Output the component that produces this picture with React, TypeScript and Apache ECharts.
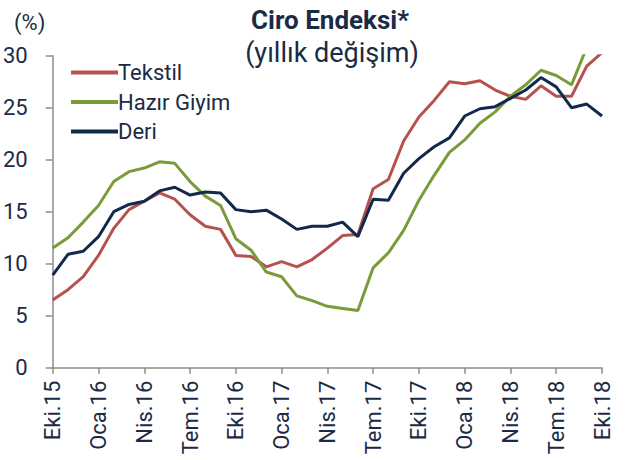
import React, { useEffect, useRef } from "react";
import * as echarts from "echarts";

const categories = [
  "Eki.15","Kas.15","Ara.15","Oca.16","Şub.16","Mar.16","Nis.16","May.16","Haz.16","Tem.16","Ağu.16","Eyl.16",
  "Eki.16","Kas.16","Ara.16","Oca.17","Şub.17","Mar.17","Nis.17","May.17","Haz.17","Tem.17","Ağu.17","Eyl.17",
  "Eki.17","Kas.17","Ara.17","Oca.18","Şub.18","Mar.18","Nis.18","May.18","Haz.18","Tem.18","Ağu.18","Eyl.18",
  "Eki.18",
];

const tekstil = [
  6.5, 7.5, 8.75, 10.8, 13.4, 15.2, 16.0, 16.8, 16.2, 14.7, 13.6, 13.3,
  10.8, 10.7, 9.7, 10.2, 9.7, 10.4, 11.5, 12.7, 12.8, 17.2, 18.1, 21.8,
  24.1, 25.7, 27.5, 27.3, 27.6, 26.7, 26.1, 25.8, 27.1, 26.1, 26.1, 29.0,
  30.3,
];

const hazirGiyim = [
  11.5, 12.5, 14.0, 15.6, 17.9, 18.85, 19.2, 19.8, 19.65, 17.9, 16.5, 15.6,
  12.4, 11.3, 9.2, 8.75, 6.9, 6.45, 5.9, 5.7, 5.5, 9.6, 11.05, 13.2,
  16.1, 18.5, 20.7, 21.9, 23.5, 24.6, 26.1, 27.2, 28.6, 28.1, 27.2, 30.8,
  33.0,
];

const deri = [
  8.9, 10.9, 11.2, 12.6, 15.0, 15.7, 16.0, 17.0, 17.35, 16.6, 16.9, 16.8,
  15.2, 15.0, 15.15, 14.3, 13.3, 13.6, 13.6, 14.0, 12.6, 16.2, 16.1, 18.7,
  20.1, 21.25, 22.1, 24.2, 24.9, 25.1, 25.9, 26.7, 27.9, 27.0, 25.0, 25.35,
  24.2,
];

const yTicks = { min: 0, max: 30, interval: 5 };

const TEXT = "#1B2B45";
const AXIS = "#8C8C8C";
const FONT = "Roboto, 'Open Sans', sans-serif";

export default function App() {
  const ref = useRef<HTMLDivElement>(null);
  useEffect(() => {
    if (!ref.current) return;
    const chart = echarts.init(ref.current, null, { renderer: "svg" });
    chart.setOption({
      animation: false,
      backgroundColor: "#ffffff",
      textStyle: { fontFamily: FONT, color: TEXT },
      grid: { left: 47, right: 31, top: 55.7, bottom: 92.3, containLabel: false },
      legend: {
        orient: "vertical",
        left: 66,
        top: 56.5,
        itemWidth: 47,
        itemHeight: 4,
        itemGap: 7.5,
        icon: "rect",
        textStyle: { fontFamily: FONT, fontSize: 22, color: TEXT, padding: [0, 0, 0, -5] },
        data: ["Tekstil", "Hazır Giyim", "Deri"],
      },
      graphic: [
        {
          type: "text",
          x: 330,
          y: 20,
          style: {
            text: "Ciro Endeksi*",
            fontFamily: FONT,
            fontWeight: "bold",
            fontSize: 26,
            fill: TEXT,
            align: "center",
            verticalAlign: "middle",
          },
        },
        {
          type: "text",
          x: 332,
          y: 53,
          style: {
            text: "(yıllık değişim)",
            fontFamily: FONT,
            fontSize: 27,
            fill: TEXT,
            align: "center",
            verticalAlign: "middle",
          },
        },
        {
          type: "text",
          x: 14,
          y: 22,
          style: { text: "(%)", fontFamily: FONT, fontSize: 22, fill: TEXT, verticalAlign: "middle" },
        },
      ],
      xAxis: {
        type: "category",
        data: categories,
        boundaryGap: false,
        axisLine: { lineStyle: { color: AXIS, width: 1.5 } },
        axisTick: { interval: 2, length: 6, lineStyle: { color: AXIS, width: 1.5 } },
        axisLabel: {
          interval: 2,
          rotate: 90,
          margin: 13,
          fontFamily: FONT,
          fontSize: 22,
          color: TEXT,
        },
        splitLine: { show: false },
      },
      yAxis: {
        type: "value",
        min: yTicks.min,
        max: yTicks.max,
        interval: yTicks.interval,
        axisLine: { show: true, lineStyle: { color: AXIS, width: 1.5 } },
        axisTick: { show: true, length: 7, lineStyle: { color: AXIS, width: 1.5 } },
        axisLabel: { margin: 25, fontFamily: FONT, fontSize: 22, color: TEXT },
        splitLine: { show: false },
      },
      series: [
        {
          name: "Tekstil",
          type: "line",
          data: tekstil,
          symbol: "none",
          clip: true,
          color: "#B5524E",
          lineStyle: { width: 3, color: "#B5524E" },
        },
        {
          name: "Hazır Giyim",
          type: "line",
          data: hazirGiyim,
          symbol: "none",
          clip: true,
          color: "#7A9B3A",
          lineStyle: { width: 3, color: "#7A9B3A" },
        },
        {
          name: "Deri",
          type: "line",
          data: deri,
          symbol: "none",
          clip: true,
          color: "#13294B",
          lineStyle: { width: 3, color: "#13294B" },
        },
      ],
    });
    return () => chart.dispose();
  }, []);
  return <div ref={ref} style={{ width: 633, height: 460, position: "absolute", left: 0, top: 0 }} />;
}
